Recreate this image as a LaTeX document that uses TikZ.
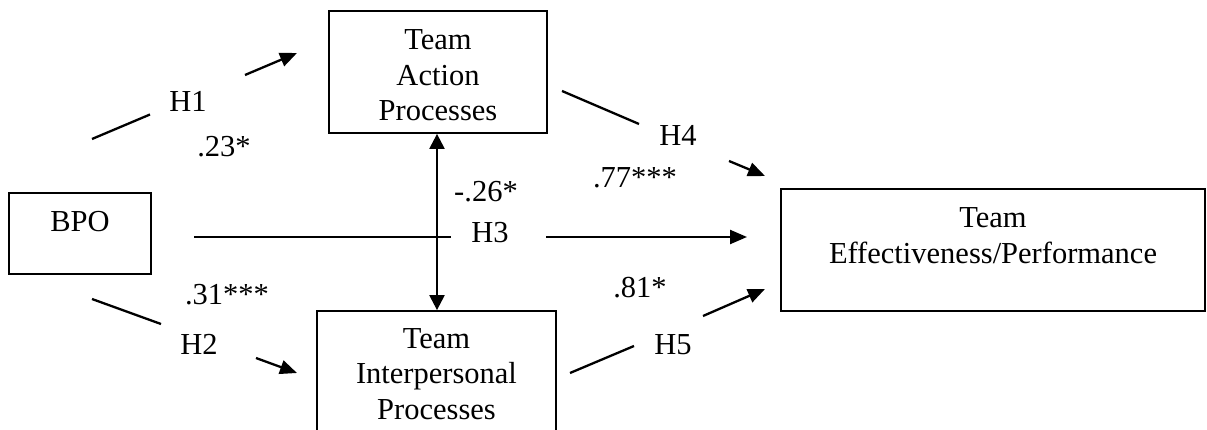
\documentclass[tikz,border=0pt]{standalone}
\usepackage{fontspec}
\setmainfont{Liberation Serif}
\usetikzlibrary{arrows.meta}
\begin{document}
\begin{tikzpicture}[x=1pt,y=-1pt,
  every node/.style={font=\fontsize{30.5}{35.5}\selectfont},
  box/.style={draw, line width=1.8pt, inner sep=0pt, align=center, anchor=base},
  conn/.style={line width=2.3pt},
  arr/.style={line width=2.3pt, -{Triangle[length=17pt,width=14pt]}},
  darr/.style={line width=2.3pt, {Triangle[length=15pt,width=15pt]}-{Triangle[length=15pt,width=15pt]}},
  lab/.style={anchor=base, inner sep=0pt}]
\useasboundingbox (0,0) rectangle (1207,430);
% boxes
\node[box, text width=142pt, text height=39pt, text depth=42pt] (bpo) at (80,232) {BPO};
\node[box, text width=218pt, text height=39pt, text depth=83pt] (act) at (438,50) {Team\\Action\\Processes};
\node[box, text width=239pt, text height=37pt, text depth=95pt] (ip) at (436.5,348) {Team\\Interpersonal\\Processes};
\node[box, text width=424pt, text height=39pt, text depth=83pt] (eff) at (993,228) {Team\\Effectiveness/Performance};
% connector points
\coordinate (h1s) at (92,139);
\coordinate (h1a) at (150,114.5);
\coordinate (h1b) at (245,75);
\coordinate (h1e) at (297,53);
\coordinate (h2s) at (92,299);
\coordinate (h2a) at (161,324);
\coordinate (h2b) at (256,358);
\coordinate (h2e) at (297,373);
\coordinate (h3s) at (194,237);
\coordinate (h3a) at (451,237);
\coordinate (h3b) at (546,237);
\coordinate (h3e) at (747,237);
\coordinate (h4s) at (562,91);
\coordinate (h4a) at (639,124);
\coordinate (h4b) at (729,161);
\coordinate (h4e) at (765,176);
\coordinate (h5s) at (570,373);
\coordinate (h5a) at (634,346);
\coordinate (h5b) at (703,316);
\coordinate (h5e) at (765,289);
\coordinate (vx) at (437,0);
% connectors
\draw[conn] (h1s) -- (h1a);
\draw[arr] (h1b) -- (h1e);
\draw[conn] (h2s) -- (h2a);
\draw[arr] (h2b) -- (h2e);
\draw[conn] (h3s) -- (h3a);
\draw[arr] (h3b) -- (h3e);
\draw[conn] (h4s) -- (h4a);
\draw[arr] (h4b) -- (h4e);
\draw[conn] (h5s) -- (h5a);
\draw[arr] (h5b) -- (h5e);
\draw[darr] (act.south -| vx) -- (ip.north -| vx);
% labels
\node[lab] (l1) at (188,112) {H1};
\node[lab] (c1) at (224,157) {.23*};
\node[lab] (c2) at (227,305) {.31***};
\node[lab] (l2) at (199,354) {H2};
\node[lab] (c3) at (486,202) {-.26*};
\node[lab] (l3) at (490,243) {H3};
\node[lab] (c4) at (635,188) {.77***};
\node[lab] (l4) at (678,146) {H4};
\node[lab] (c5) at (640,298) {.81*};
\node[lab] (l5) at (673,354) {H5};
\end{tikzpicture}
\end{document}
